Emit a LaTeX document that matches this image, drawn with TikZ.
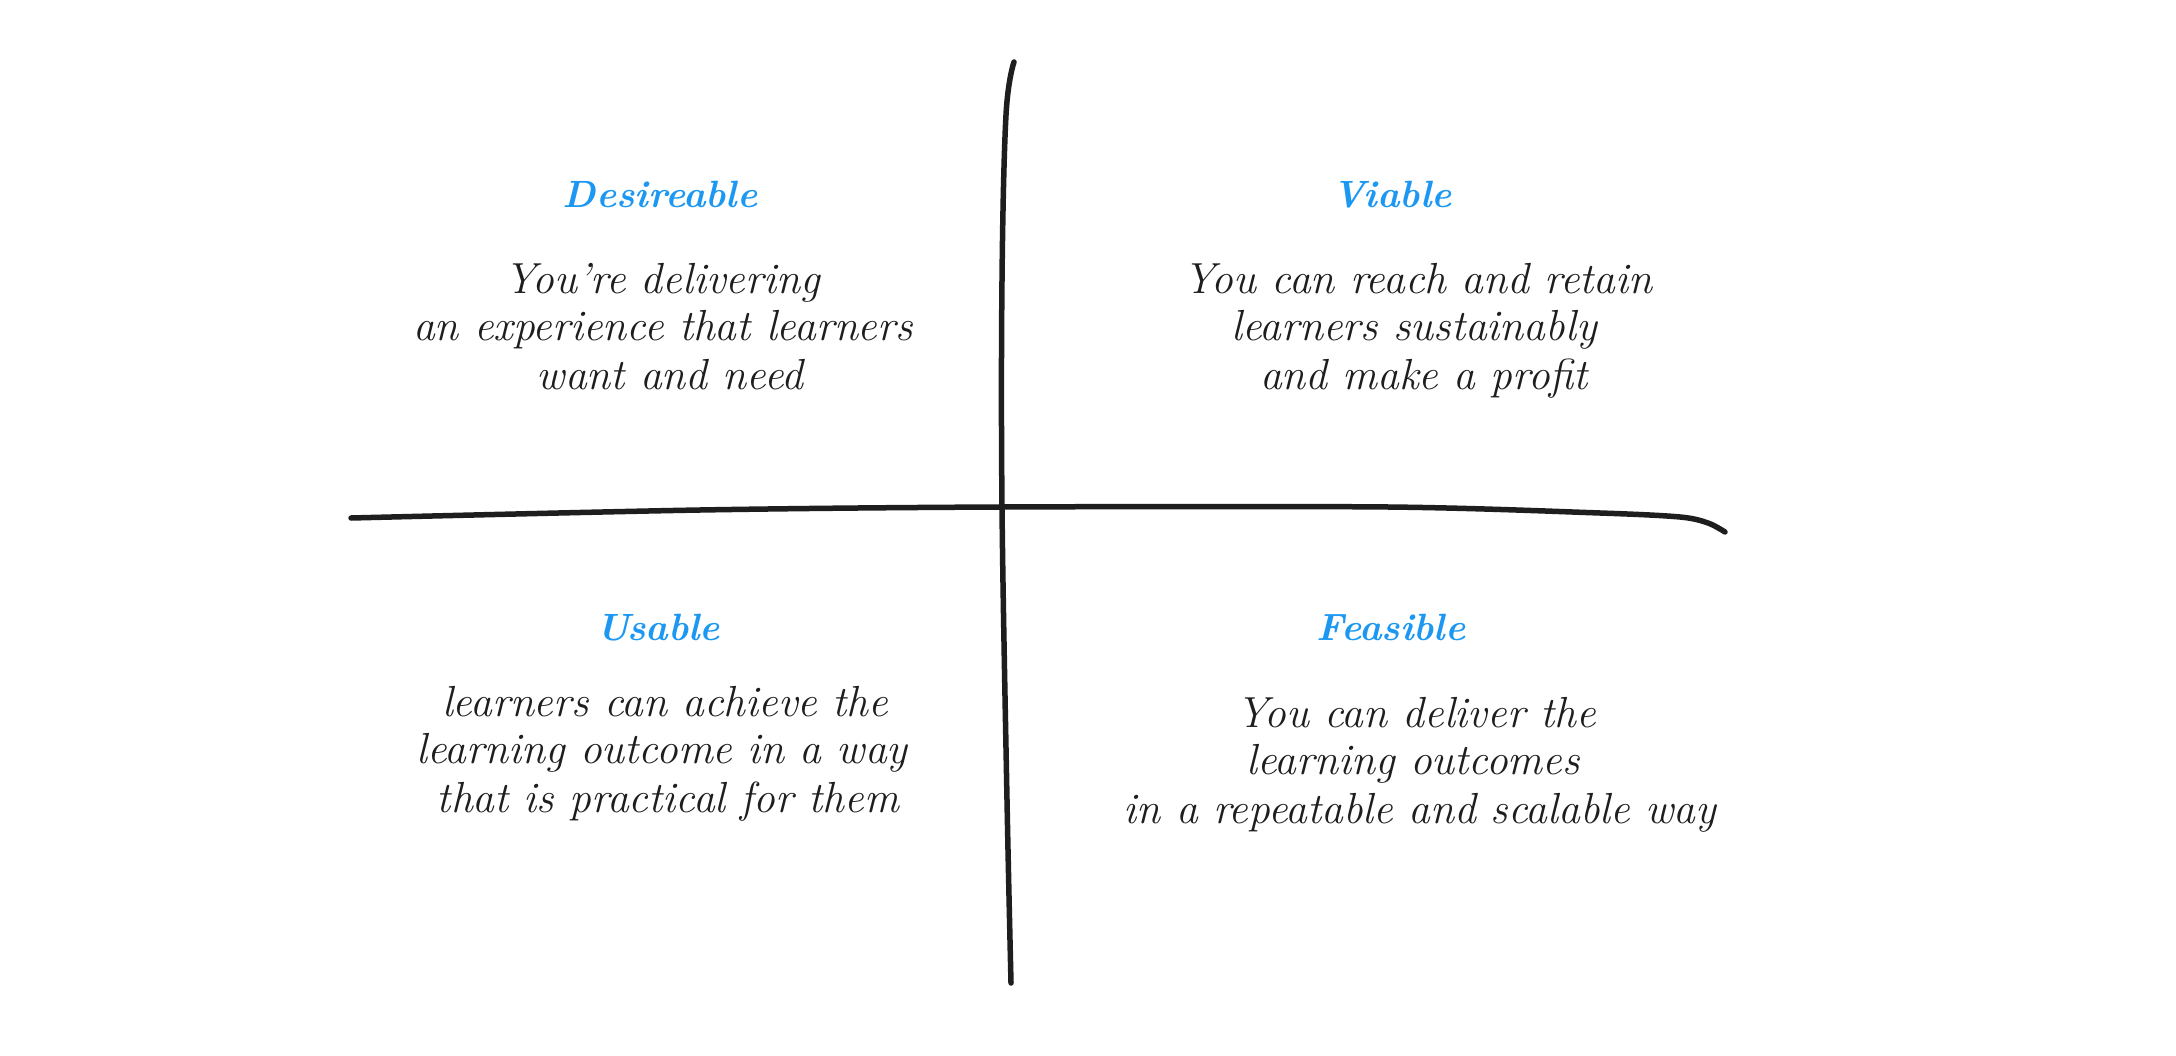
\documentclass[tikz,border=0pt]{standalone}
\usepackage{fontspec}
\setmainfont{Latin Modern Roman}
\definecolor{ink}{HTML}{1E1E1E}
\definecolor{titleblue}{HTML}{1C98F2}
\tikzset{
  axis/.style={draw=ink, line width=5.5pt, line cap=round, line join=round},
  ttl/.style={anchor=base, text=titleblue, font=\fontsize{38}{44}\selectfont\bfseries\itshape, inner sep=0pt},
  body/.style={anchor=base, text=ink, font=\fontsize{43.5}{50}\selectfont\itshape, inner sep=0pt}
}
\begin{document}
\begin{tikzpicture}[x=1pt,y=-1pt]
\useasboundingbox[fill=white] (0,0) rectangle (2176,1056);
% axes
\draw[axis] plot[smooth, tension=0.6] coordinates {(1014,62) (1006,115) (1002,280) (1002,507) (1007,800) (1011,983)};
\draw[axis] plot[smooth, tension=0.5] coordinates {(351,518) (700,510) (1002,507) (1388,507) (1600,513) (1680,517) (1708,523) (1725,532)};
% Desireable
\node[ttl] (t1) at (660,208) {Desireable};
\node[body] (d1) at (662,294) {You're delivering};
\node[body] (d2) at (663,341) {an experience that learners};
\node[body] (d3) at (670,389) {want and need};
% Viable
\node[ttl] (t2) at (1392,208) {Viable};
\node[body] (v1) at (1418,294) {You can reach and retain};
\node[body] (v2) at (1414,341) {learners sustainably};
\node[body] (v3) at (1424,389) {and make a profit};
% Usable
\node[ttl] (t3) at (658,640) {Usable};
\node[body] (u1) at (665,716) {learners can achieve the};
\node[body] (u2) at (662,763) {learning outcome in a way};
\node[body] (u3) at (668,812) {that is practical for them};
% Feasible
\node[ttl] (t4) at (1391,640) {Feasible};
\node[body] (f1) at (1416,727) {You can deliver the};
\node[body] (f2) at (1413,774) {learning outcomes};
\node[body] (f3) at (1420,823) {in a repeatable and scalable way};
\end{tikzpicture}
\end{document}
